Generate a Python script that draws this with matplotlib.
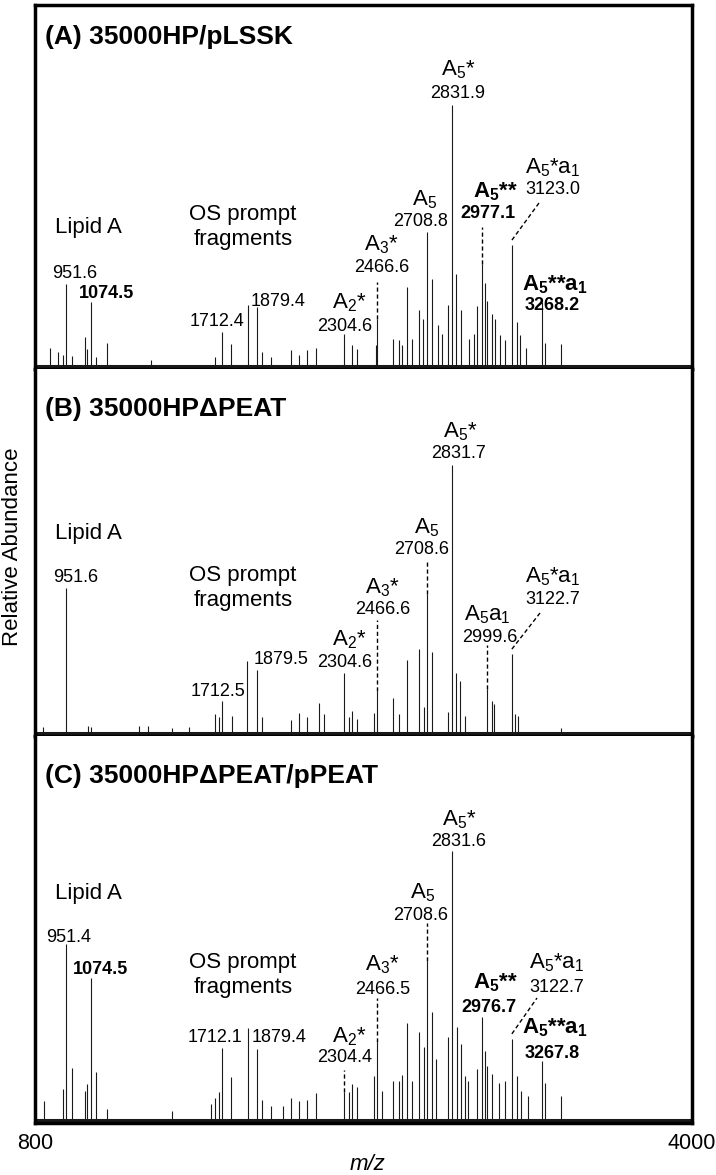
import matplotlib
matplotlib.use("Agg")
import matplotlib.pyplot as plt

plt.rcParams['font.family'] = ['Liberation Sans', 'DejaVu Sans']
plt.rcParams['mathtext.default'] = 'regular'

W, H = 716, 1175

# (A) 35000HP/pLSSK  - peak m/z and relative intensity (%)
mz_a = [874, 912, 936, 951.6, 978, 1042, 1054, 1074.5, 1098, 1152, 1365, 1675, 1712.4, 1756, 1836,
        1879.4, 1907, 1951, 2048, 2084, 2126, 2170, 2304.6, 2343, 2369, 2459, 2466.6, 2546, 2571, 2587,
        2611, 2636, 2670, 2689, 2708.8, 2733, 2762, 2782, 2811, 2831.9, 2852, 2873, 2912, 2936, 2954,
        2977.1, 2990, 3002, 3025, 3039, 3066, 3090, 3123.0, 3147, 3163, 3192, 3268.2, 3283, 3363]
int_a = [7.6, 5.7, 4.6, 32.0, 4.2, 11.5, 6.9, 24.8, 3.8, 9.5, 3.0, 3.8, 13.7, 8.8, 24.0,
         22.9, 5.7, 3.8, 6.5, 4.6, 6.5, 7.6, 12.6, 8.4, 6.9, 8.4, 18.3, 10.7, 10.3, 8.4,
         30.5, 10.7, 22.1, 18.3, 51.5, 33.6, 16.0, 12.6, 24.0, 100, 35.5, 22.1, 10.7, 12.6, 23.3,
         39.3, 32.4, 25.2, 20.2, 18.3, 12.2, 10.3, 46.6, 17.2, 12.2, 7.6, 24.8, 9.5, 8.8]

# (B) 35000HPΔPEAT
mz_b = [839, 951.6, 1058, 1073, 1306, 1350, 1467, 1550, 1675, 1694, 1712.5, 1758, 1834, 1879.5, 1907,
        2048, 2085, 2126, 2181, 2207, 2304.6, 2327, 2343, 2369, 2449, 2466.6, 2546, 2571, 2611, 2670,
        2693, 2708.6, 2733, 2811, 2831.7, 2852, 2871, 2892, 2999.6, 3025, 3035, 3122.7, 3137, 3152, 3363]
int_b = [2.6, 54.3, 3.0, 2.6, 3.0, 3.3, 2.2, 2.6, 7.4, 6.3, 12.3, 6.7, 27.1, 23.8, 6.3,
         5.2, 7.8, 6.3, 11.5, 7.4, 23.0, 6.3, 8.6, 5.6, 7.8, 16.0, 13.4, 7.4, 27.5, 31.6,
         10.0, 52.0, 30.5, 8.2, 100, 22.7, 19.7, 6.7, 16.7, 12.3, 11.2, 29.7, 7.4, 6.7, 2.2]

# (C) 35000HPΔPEAT/pPEAT
mz_c = [842, 936, 951.4, 980, 1042, 1054, 1074.5, 1098, 1152, 1468, 1658, 1675, 1696, 1712.1, 1756,
        1836, 1879.4, 1907, 1951, 2008, 2048, 2084, 2126, 2170, 2304.4, 2327, 2343, 2369, 2449, 2466.5,
        2490, 2546, 2571, 2587, 2611, 2636, 2670, 2693, 2708.6, 2733, 2754, 2811, 2831.6, 2854, 2873,
        2892, 2908, 2954, 2976.7, 2990, 3002, 3025, 3061, 3089, 3122.7, 3147, 3168, 3200, 3267.8, 3283, 3363]
int_c = [7.4, 11.9, 65.6, 19.6, 11.1, 13.7, 53.0, 18.1, 4.4, 3.7, 6.3, 8.5, 10.7, 27.0, 16.3,
         34.4, 26.7, 8.1, 5.6, 5.6, 8.5, 7.4, 8.1, 10.4, 10.7, 10.7, 13.7, 12.6, 16.7, 29.3,
         11.1, 14.8, 14.8, 17.0, 36.3, 14.8, 33.0, 27.4, 59.3, 40.4, 23.0, 31.1, 100, 34.8, 28.5,
         16.7, 14.8, 19.3, 38.5, 25.9, 20.4, 17.4, 14.1, 14.8, 30.4, 16.7, 11.1, 9.3, 22.2, 14.1, 9.3]

titles = ["(A) 35000HP/pLSSK", "(B) 35000HPΔPEAT", "(C) 35000HPΔPEAT/pPEAT"]
xticks = [800, 4000]

fig = plt.figure(figsize=(W / 100, H / 100), dpi=100)

# panel extents in pixels (top, bottom) and y limits
spans = [(5, 369), (369, 736), (736, 1123)]
ylims = [(-0.6, 138.3), (-0.6, 135.8), (-0.6, 142.7)]
data = [(mz_a, int_a), (mz_b, int_b), (mz_c, int_c)]
axes = []
for i, ((top, bot), yl, (mz, inten)) in enumerate(zip(spans, ylims, data)):
    ax = fig.add_axes([35 / W, 1 - bot / H, 657 / W, (bot - top) / H])
    ax.vlines(mz, 0, inten, color='#1a1a1a', lw=0.8)
    ax.axhline(0.4, color='#1a1a1a', lw=2.2)
    ax.set_xlim(800, 4000)
    ax.set_ylim(*yl)
    ax.set_yticks([])
    for s in ax.spines.values():
        s.set_linewidth(2.5)
    if i > 0:
        ax.spines['top'].set_visible(False)
    if i < 2:
        ax.set_xticks([])
    else:
        ax.set_xticks(xticks)
        ax.set_xticklabels([str(t) for t in xticks])
        ax.tick_params(axis='x', length=0, pad=7, labelsize=15.5)
        ax.get_xticklabels()[-1].set_x(3975)
    axes.append(ax)
    fig.text(45 / W, 1 - (top + (32 if i == 0 else 40)) / H, titles[i],
             fontsize=19, fontweight='bold', ha='left', va='center')


def mz_list(ax):
    return data[axes.index(ax)][0]


def label(x, y, s, size=13, bold=False):
    fig.text(x / W, 1 - y / H, s, fontsize=size, fontweight='bold' if bold else 'normal',
             ha='center', va='center')


def vlead(ax, mz, inten, y_px):
    y_top = ax.transData.inverted().transform((0, H - y_px))[1]
    p = inten[mz_list(ax).index(mz)]
    ax.plot([mz, mz], [p, y_top], ls=(0, (3, 2)), color='k', lw=1)


def dlead(ax, mz, inten, x_px, y_px):
    xt, yt = ax.transData.inverted().transform((x_px, H - y_px))
    p = inten[mz_list(ax).index(mz)]
    ax.plot([mz, xt], [p + 2, yt], ls=(0, (3, 2)), color='k', lw=1)


SP = 16   # species / group labels
NUM = 13  # m/z labels

# ---- panel A
ax = axes[0]
label(88, 228, "Lipid A", SP)
label(243, 227, "OS prompt\nfragments", SP)
label(75, 273, "951.6", NUM)
label(106, 294, "1074.5", NUM, True)
label(217, 322, "1712.4", NUM)
label(278, 301, "1879.4", NUM)
label(349, 303, "A$_2$*", SP)
label(345, 327, "2304.6", NUM)
label(381, 245, "A$_3$*", SP)
label(382, 268, "2466.6", NUM)
label(425, 200, "A$_5$", SP)
label(421, 221, "2708.8", NUM)
label(458, 70, "A$_5$*", SP)
label(458, 93, "2831.9", NUM)
label(495, 192, "A$_5$**", SP, True)
label(488, 214, "2977.1", NUM, True)
label(553, 168, "A$_5$*a$_1$", SP)
label(553, 190, "3123.0", NUM)
label(555, 285, "A$_5$**a$_1$", SP, True)
label(552, 305, "3268.2", NUM, True)
vlead(ax, 2466.6, int_a, 282)
vlead(ax, 2977.1, int_a, 227)
dlead(ax, 3123.0, int_a, 539, 203)

# ---- panel B
ax = axes[1]
label(88, 533, "Lipid A", SP)
label(243, 588, "OS prompt\nfragments", SP)
label(76, 578, "951.6", NUM)
label(218, 691, "1712.5", NUM)
label(281, 659, "1879.5", NUM)
label(349, 640, "A$_2$*", SP)
label(345, 663, "2304.6", NUM)
label(382, 588, "A$_3$*", SP)
label(383, 610, "2466.6", NUM)
label(427, 528, "A$_5$", SP)
label(422, 550, "2708.6", NUM)
label(460, 432, "A$_5$*", SP)
label(459, 453, "2831.7", NUM)
label(487, 615, "A$_5$a$_1$", SP)
label(490, 637, "2999.6", NUM)
label(553, 577, "A$_5$*a$_1$", SP)
label(553, 600, "3122.7", NUM)
vlead(ax, 2466.6, int_b, 620)
vlead(ax, 2708.6, int_b, 560)
vlead(ax, 2999.6, int_b, 645)
dlead(ax, 3122.7, int_b, 540, 613)

# ---- panel C
ax = axes[2]
label(88, 893, "Lipid A", SP)
label(243, 975, "OS prompt\nfragments", SP)
label(69, 937, "951.4", NUM)
label(100, 969, "1074.5", NUM, True)
label(215, 1038, "1712.1", NUM)
label(279, 1038, "1879.4", NUM)
label(349, 1037, "A$_2$*", SP)
label(345, 1058, "2304.4", NUM)
label(382, 965, "A$_3$*", SP)
label(383, 989, "2466.5", NUM)
label(423, 893, "A$_5$", SP)
label(421, 915, "2708.6", NUM)
label(459, 820, "A$_5$*", SP)
label(459, 842, "2831.6", NUM)
label(495, 983, "A$_5$**", SP, True)
label(489, 1008, "2976.7", NUM, True)
label(557, 963, "A$_5$*a$_1$", SP)
label(557, 987, "3122.7", NUM)
label(555, 1028, "A$_5$**a$_1$", SP, True)
label(552, 1053, "3267.8", NUM, True)
vlead(ax, 2304.4, int_c, 1070)
vlead(ax, 2466.5, int_c, 998)
vlead(ax, 2708.6, int_c, 923)
dlead(ax, 3122.7, int_c, 537, 998)

fig.text(367 / W, 1 - 1165 / H, "m/z", fontsize=16, style='italic', ha='center', va='center')
fig.text(13 / W, 1 - 547 / H, "Relative Abundance", fontsize=16, rotation=90,
         ha='center', va='center')

fig.savefig("out.png", dpi=100)
